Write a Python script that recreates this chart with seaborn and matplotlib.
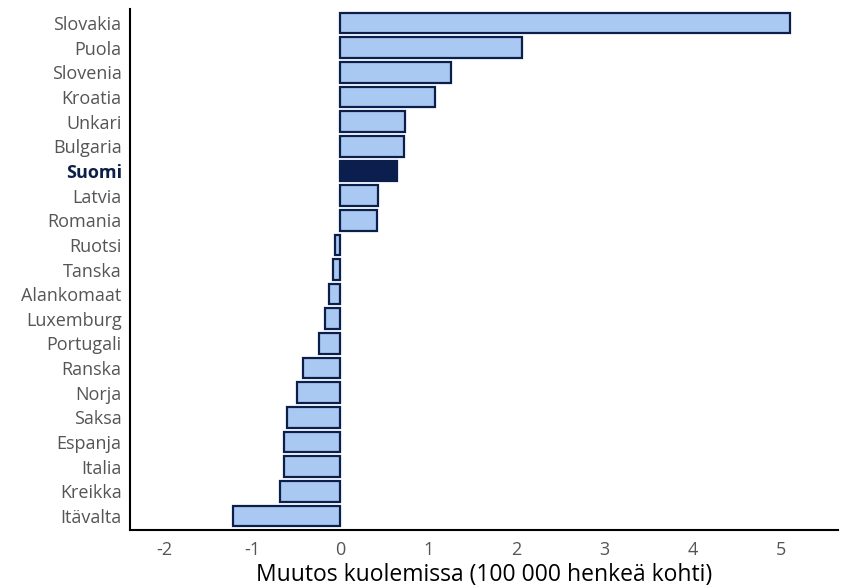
import matplotlib
matplotlib.use("Agg")
import matplotlib.pyplot as plt
import seaborn as sns
import pandas as pd

# ============================
# Data
# ============================

countries = [
    "Slovakia", "Puola", "Slovenia", "Kroatia", "Unkari", "Bulgaria",
    "Suomi", "Latvia", "Romania", "Ruotsi", "Tanska", "Alankomaat",
    "Luxemburg", "Portugali", "Ranska", "Norja", "Saksa", "Espanja",
    "Italia", "Kreikka", "Itävalta",
]
change = [
    5.10, 2.06, 1.26, 1.07, 0.73, 0.72,
    0.64, 0.43, 0.42, -0.06, -0.09, -0.13,
    -0.18, -0.24, -0.43, -0.49, -0.61, -0.64,
    -0.64, -0.69, -1.22,
]
x_ticks = [-2, -1, 0, 1, 2, 3, 4, 5]
highlight = "Suomi"
x_label = "Muutos kuolemissa (100 000 henkeä kohti)"

# ============================
# Style
# ============================

LIGHT = "#a9c8f2"
NAVY = "#0a1f4d"

sns.set_style("white")
plt.rcParams["font.family"] = ["Open Sans", "DejaVu Sans"]

df = pd.DataFrame({"maa": countries, "muutos": change})
palette = {c: (NAVY if c == highlight else LIGHT) for c in countries}

# ============================
# Plot
# ============================

fig = plt.figure(figsize=(8.48, 5.86), dpi=100)
ax = fig.add_axes([0.1533, 0.0956, 0.835, 0.889])

sns.barplot(
    data=df,
    x="muutos",
    y="maa",
    hue="maa",
    palette=palette,
    order=countries,
    hue_order=countries,
    legend=False,
    orient="h",
    width=0.84,
    saturation=1,
    edgecolor=NAVY,
    linewidth=1.6,
    ax=ax,
)

ax.set_xlim(-2.39, 5.65)
ax.set_ylim(len(countries) - 0.43, -0.57)
ax.set_xticks(x_ticks)
ax.set_xticklabels([str(t) for t in x_ticks])
ax.set_xlabel(x_label, fontsize=16.5, color="black", labelpad=3)
ax.set_ylabel("")

for side in ["top", "right"]:
    ax.spines[side].set_visible(False)
for side in ["left", "bottom"]:
    ax.spines[side].set_color("black")
    ax.spines[side].set_linewidth(1.5)

ax.tick_params(axis="both", direction="out", length=4, width=1.2,
               color="#333333", labelsize=13, labelcolor="#555555", pad=2)
ax.tick_params(axis="x", pad=4)

for lbl in ax.get_yticklabels():
    if lbl.get_text() == highlight:
        lbl.set_fontweight("bold")
        lbl.set_color(NAVY)

plt.savefig("out.png", dpi=100)
plt.close()
